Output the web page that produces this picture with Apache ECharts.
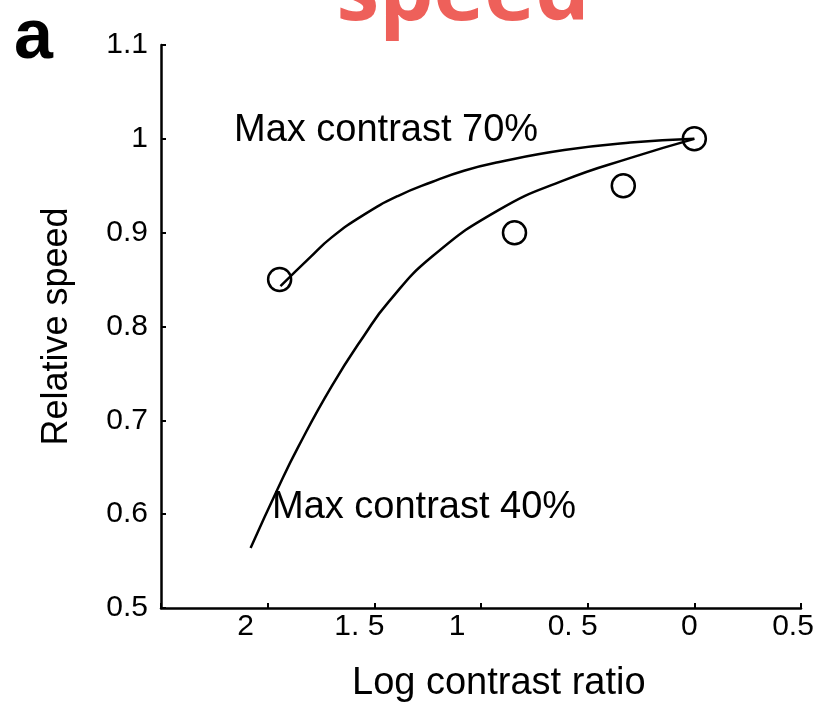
<!DOCTYPE html>
<html>
<head>
<meta charset="utf-8">
<script src="https://cdn.jsdelivr.net/npm/echarts@6/dist/echarts.min.js"></script>
<style>html,body{margin:0;padding:0;background:#fff}#c{width:834px;height:718px}</style>
</head>
<body>
<div id="c"></div>
<script>
// ---- data ----
const xTickValues = [-0.5, 0, 0.5, 1, 1.5, 2, 2.5];
const xTickLabels = ['0.5', '0', '0. 5', '1', '1. 5', '2', ''];
const yTickLabels = ['0.5', '0.6', '0.7', '0.8', '0.9', '1', '1.1'];
const pointsX = [1.944, 0.843, 0.333, 0];
const pointsY = [0.85, 0.90, 0.95, 1.0];
const curve70X = [1.94, 1.80, 1.70, 1.55, 1.39, 1.23, 1.08, 0.92, 0.61, 0.30, 0];
const curve70Y = [0.843, 0.874, 0.895, 0.919, 0.939, 0.954, 0.966, 0.975, 0.988, 0.996, 1.0];
const curve40X = [2.080, 1.949, 1.856, 1.701, 1.546, 1.434, 1.232, 0.918, 0.609, 0.295, 0];
const curve40Y = [0.564, 0.629, 0.672, 0.736, 0.791, 0.826, 0.874, 0.924, 0.956, 0.980, 1.0];
const label70 = 'Max contrast 70%';
const label40 = 'Max contrast 40%';
const xName = 'Log contrast ratio';
const yName = 'Relative speed';
const titleText = 'speed';
const panelLetter = 'a';

const zip = (xs, ys) => xs.map((x, i) => [x, ys[i]]);
const FONT = "'Liberation Sans', Arial, sans-serif";
const xLabelShift = [16, 10, 30, 48, 30, 44, 0]; // right padding -> shifts label left by half

const rich = {};
xLabelShift.forEach((p, i) => {
  rich['o' + i] = { fontSize: 30, fontFamily: FONT, color: '#000', padding: [0, p, 0, 0] };
});

const chart = echarts.init(document.getElementById('c'), null, { renderer: 'canvas' });
chart.setOption({
  animation: false,
  backgroundColor: '#fff',
  grid: { left: 161, right: 33, top: 45, bottom: 110, containLabel: false },
  xAxis: {
    type: 'value', inverse: true, min: -0.5, max: 2.5, interval: 0.5,
    axisLine: { show: true, onZero: false, lineStyle: { color: '#000', width: 2.5 } },
    axisTick: { show: true, inside: true, length: 5, lineStyle: { color: '#000', width: 2 } },
    splitLine: { show: false },
    axisLabel: {
      margin: 4, color: '#000', fontSize: 30, fontFamily: FONT,
      showMinLabel: true, showMaxLabel: true,
      formatter: (v) => {
        const i = xTickValues.findIndex(t => Math.abs(t - v) < 1e-6);
        if (i < 0 || !xTickLabels[i]) return '';
        return '{o' + i + '|' + xTickLabels[i] + '}';
      },
      rich: rich
    }
  },
  yAxis: {
    type: 'value', min: 0.5, max: 1.1, interval: 0.1,
    axisLine: { show: true, onZero: false, lineStyle: { color: '#000', width: 2.5 } },
    axisTick: { show: true, inside: true, length: 5, lineStyle: { color: '#000', width: 2 } },
    splitLine: { show: false },
    axisLabel: {
      margin: 13, color: '#000', fontSize: 30, fontFamily: FONT,
      showMinLabel: true, showMaxLabel: true,
      formatter: (v) => yTickLabels[Math.round((v - 0.5) * 10)] || ''
    },
    name: yName, nameLocation: 'middle', nameGap: 86, nameRotate: 90,
    nameTextStyle: { color: '#000', fontSize: 36, fontFamily: FONT }
  },
  series: [
    {
      type: 'line', data: zip(curve70X, curve70Y), smooth: 0.5, showSymbol: false,
      lineStyle: { color: '#000', width: 2.5 }, z: 2
    },
    {
      type: 'line', data: zip(curve40X, curve40Y), smooth: 0.5, showSymbol: false,
      lineStyle: { color: '#000', width: 2.5 }, z: 2
    },
    {
      type: 'scatter', data: zip(pointsX, pointsY), symbol: 'circle', symbolSize: 23,
      itemStyle: { color: 'rgba(255,255,255,0)', borderColor: '#000', borderWidth: 2.5, opacity: 1 }, z: 3
    }
  ],
  graphic: [
    { type: 'text', left: 234, top: 112, z: 10,
      style: { text: label70, fontSize: 38, fontFamily: FONT, fill: '#000' } },
    { type: 'text', left: 272, top: 489, z: 10,
      style: { text: label40, fontSize: 38, fontFamily: FONT, fill: '#000' } },
    { type: 'text', left: 352, top: 665, z: 10,
      style: { text: xName, fontSize: 38, fontFamily: FONT, fill: '#000' } },
    { type: 'text', left: 14, top: 4, z: 10,
      style: { text: panelLetter, fontSize: 70, fontWeight: 'bold', fontFamily: FONT, fill: '#000' } },
    { type: 'text', x: 463, y: -5, z: 10,
      style: { text: titleText, fontSize: 86, fontWeight: 'bold', fontFamily: "'Open Sans', 'Noto Sans', sans-serif", fill: '#EE605A', align: 'center', verticalAlign: 'middle' } }
  ]
});
</script>
</body>
</html>
